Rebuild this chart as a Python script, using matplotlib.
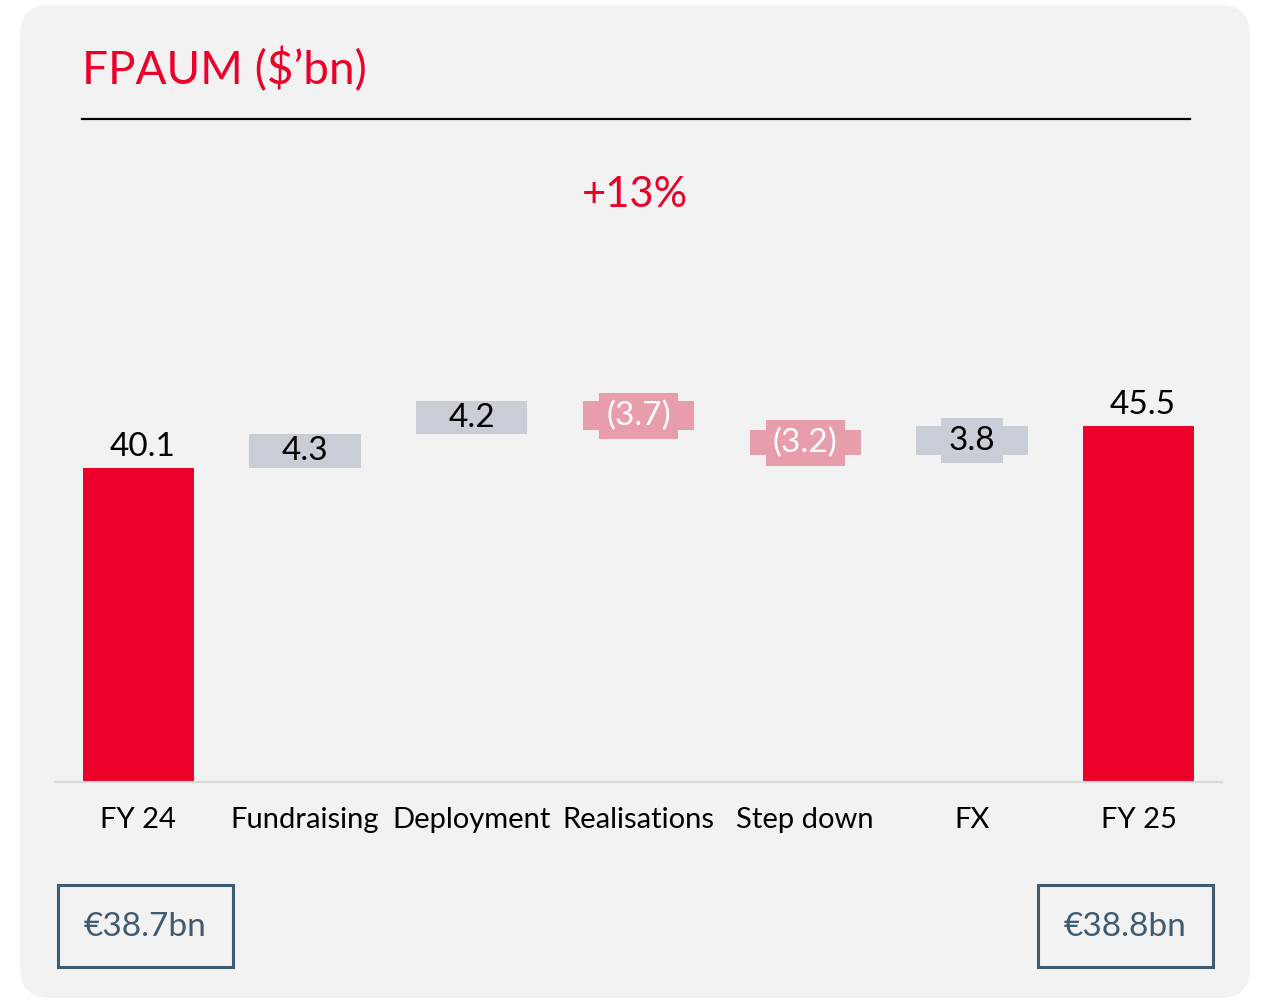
# Waterfall FPAUM ($'bn) FY 24 -> FY 25, fond gris arrondi, pastilles de valeurs.
import numpy as np
import matplotlib
matplotlib.use("Agg")
import matplotlib.pyplot as plt
from matplotlib.patches import FancyBboxPatch, Rectangle

plt.rcParams["font.family"] = ["Lato", "DejaVu Sans"]

ROUGE = "#EA0029"
GRIS_BARRE = "#C9CED6"
ROSE = "#E89DAB"
FOND = "#F2F2F2"
ARDOISE = "#3F5B72"

categories = ["FY 24", "Fundraising", "Deployment", "Realisations",
              "Step down", "FX", "FY 25"]
valeurs = [40.1, 4.3, 4.2, -3.7, -3.2, 3.8, 45.5]
totaux = [True, False, False, False, False, False, True]
etiquettes = ["40.1", "4.3", "4.2", "(3.7)", "(3.2)", "3.8", "45.5"]
pastille = [False, False, False, True, True, True, False]
titre = "FPAUM ($\u2019bn)"
croissance = "+13%"
euros_gauche = "\u20ac38.7bn"
euros_droite = "\u20ac38.8bn"

fig = plt.figure(figsize=(12.61, 10), dpi=100)

# fond en coordonnees pixels
fond = fig.add_axes([0, 0, 1, 1])
fond.set_xlim(0, 1261)
fond.set_ylim(1000, 0)
fond.axis("off")
fond.add_patch(FancyBboxPatch((20, 5), 1230, 993,
                              boxstyle="round,pad=0,rounding_size=30",
                              fc=FOND, ec="none"))
fond.text(82, 70, titre, color=ROUGE, fontsize=33, va="center", ha="left")
fond.plot([82, 1190], [119, 119], color="black", lw=1.6)
fond.text(635, 195, croissance, color=ROUGE, fontsize=30, ha="center", va="center")
for x0, txt in ((58, euros_gauche), (1038, euros_droite)):
    fond.add_patch(Rectangle((x0, 885), 175, 82, fc="none", ec=ARDOISE, lw=2.2))
    fond.text(x0 + 87.5, 927, txt, color=ARDOISE, fontsize=24,
              ha="center", va="center")

# graphe
ax = fig.add_axes([55 / 1261, 0.218, 1167 / 1261, 0.642])
ax.patch.set_visible(False)
x = np.arange(len(categories))
bas, haut = [], []
courant = 0.0
for v, t in zip(valeurs, totaux):
    if t:
        bas.append(0.0)
        haut.append(v)
        courant = v
    else:
        bas.append(min(courant, courant + v))
        haut.append(abs(v))
        courant += v
couleurs = [ROUGE if t else (GRIS_BARRE if v > 0 else ROSE)
            for v, t in zip(valeurs, totaux)]
ax.bar(x, haut, bottom=bas, width=0.667, color=couleurs, zorder=2)

for i in range(len(x)):
    if totaux[i]:
        ax.annotate(etiquettes[i], (x[i], haut[i]), xytext=(3, 4),
                    textcoords="offset points", ha="center", va="bottom",
                    fontsize=24, color="black")
    else:
        coul_txt = "white" if valeurs[i] < 0 else "black"
        kw = {}
        if pastille[i]:
            kw["bbox"] = dict(boxstyle="square,pad=0.22", fc=couleurs[i], ec="none")
        ax.text(x[i], bas[i] + haut[i] / 2, etiquettes[i], ha="center",
                va="center", fontsize=24, color=coul_txt, zorder=3, **kw)

ax.set_xlim(-0.5, 6.5)
ax.set_ylim(0, 642 / 7.83)
ax.set_xticks(x)
ax.set_xticklabels(categories, fontsize=21)
ax.tick_params(axis="x", length=0, pad=18)
ax.set_yticks([])
for s in ("top", "right", "left"):
    ax.spines[s].set_visible(False)
ax.spines["bottom"].set_color("#D9D9D9")
ax.spines["bottom"].set_linewidth(1.5)

fig.savefig("out.png", dpi=100, facecolor="white")
